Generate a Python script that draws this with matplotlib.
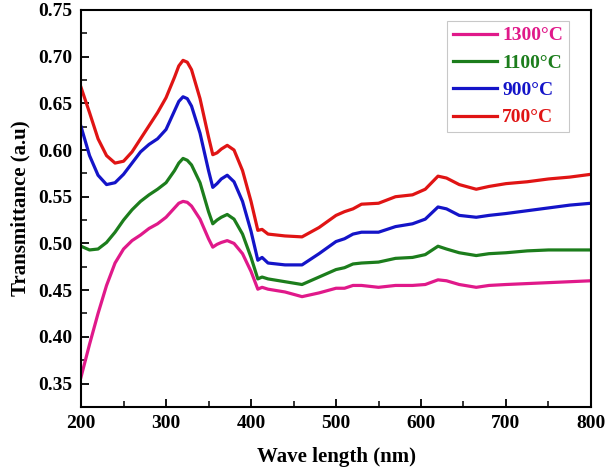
import matplotlib
matplotlib.use("Agg")
import matplotlib.pyplot as plt
from matplotlib.ticker import MultipleLocator

plt.rcParams['font.family'] = ['Liberation Serif', 'DejaVu Serif']
plt.rcParams['font.weight'] = 'bold'

# wavelength grid (nm) shared by all samples
wl = [200, 210, 220, 230, 240, 250, 260, 270, 280, 290, 300, 310, 315, 320, 325, 330, 340, 350,
      355, 360, 365, 372, 380, 390, 400, 408, 413, 420, 440, 460, 480, 500, 510, 520,
      530, 550, 570, 590, 605, 620, 630, 645, 665, 680, 700, 725, 750, 775, 800]

t700 = [0.667, 0.640, 0.612, 0.594, 0.586, 0.588, 0.598, 0.612, 0.626, 0.640, 0.656, 0.678, 0.690, 0.696, 0.694, 0.686, 0.655, 0.614,
        0.595, 0.597, 0.601, 0.605, 0.600, 0.578, 0.545, 0.514, 0.515, 0.510, 0.508, 0.507, 0.517, 0.530, 0.534, 0.537,
        0.542, 0.543, 0.550, 0.552, 0.558, 0.572, 0.570, 0.563, 0.558, 0.561, 0.564, 0.566, 0.569, 0.571, 0.574]

t900 = [0.625, 0.594, 0.573, 0.563, 0.565, 0.574, 0.586, 0.598, 0.606, 0.612, 0.622, 0.642, 0.652, 0.657, 0.655, 0.647, 0.618, 0.578,
        0.560, 0.564, 0.569, 0.573, 0.566, 0.545, 0.513, 0.482, 0.485, 0.479, 0.477, 0.477, 0.489, 0.502, 0.505, 0.510,
        0.512, 0.512, 0.518, 0.521, 0.526, 0.539, 0.537, 0.530, 0.528, 0.530, 0.532, 0.535, 0.538, 0.541, 0.543]

t1100 = [0.497, 0.493, 0.494, 0.501, 0.512, 0.525, 0.536, 0.545, 0.552, 0.558, 0.565, 0.578, 0.586, 0.591, 0.589, 0.584, 0.565, 0.534,
         0.521, 0.525, 0.528, 0.531, 0.526, 0.510, 0.485, 0.462, 0.464, 0.462, 0.459, 0.456, 0.464, 0.472, 0.474, 0.478,
         0.479, 0.480, 0.484, 0.485, 0.488, 0.497, 0.494, 0.490, 0.487, 0.489, 0.490, 0.492, 0.493, 0.493, 0.493]

t1300 = [0.357, 0.392, 0.425, 0.455, 0.479, 0.494, 0.503, 0.509, 0.516, 0.521, 0.528, 0.538, 0.543, 0.545, 0.544, 0.540, 0.526, 0.505,
         0.496, 0.499, 0.501, 0.503, 0.500, 0.489, 0.470, 0.451, 0.453, 0.451, 0.448, 0.443, 0.447, 0.452, 0.452, 0.455,
         0.455, 0.453, 0.455, 0.455, 0.456, 0.461, 0.460, 0.456, 0.453, 0.455, 0.456, 0.457, 0.458, 0.459, 0.460]

labels = ['1300°C', '1100°C', '900°C', '700°C']
colors = ['#e0198a', '#1c7d1c', '#1414c8', '#e01414']

fig = plt.figure(figsize=(6.14, 4.72), dpi=100)
ax = fig.add_axes([0.132, 0.138, 0.8305, 0.841])

for y, lab, c in zip([t1300, t1100, t900, t700], labels, colors):
    ax.plot(wl, y, color=c, lw=2.3, label=lab)

ax.set_xlim(200, 800)
ax.set_ylim(0.325, 0.75)
ax.xaxis.set_major_locator(MultipleLocator(100))
ax.xaxis.set_minor_locator(MultipleLocator(50))
ax.yaxis.set_major_locator(MultipleLocator(0.05))
ax.yaxis.set_minor_locator(MultipleLocator(0.025))
ax.yaxis.set_major_formatter(plt.FormatStrFormatter('%.2f'))
ax.tick_params(which='major', direction='in', length=6, width=1.3, labelsize=14, pad=6,
               top=False, right=False)
ax.tick_params(which='minor', direction='in', length=4, width=1.1, top=False, right=False)
for s in ax.spines.values():
    s.set_linewidth(1.5)

ax.set_xlabel('Wave length (nm)', fontsize=15, fontweight='bold', labelpad=11)
ax.set_ylabel('Transmittance (a.u)', fontsize=15, fontweight='bold', labelpad=6)

leg = ax.legend(loc='upper right', bbox_to_anchor=(0.957, 0.972), fontsize=14,
                frameon=True, fancybox=False, edgecolor='#bbbbbb', handlelength=2.3,
                handletextpad=0.25, labelspacing=0.5, borderpad=0.3, borderaxespad=0)
leg.get_frame().set_linewidth(0.8)
for txt, c in zip(leg.get_texts(), colors):
    txt.set_color(c)
    txt.set_fontweight('bold')

fig.savefig('out.png', dpi=100)
